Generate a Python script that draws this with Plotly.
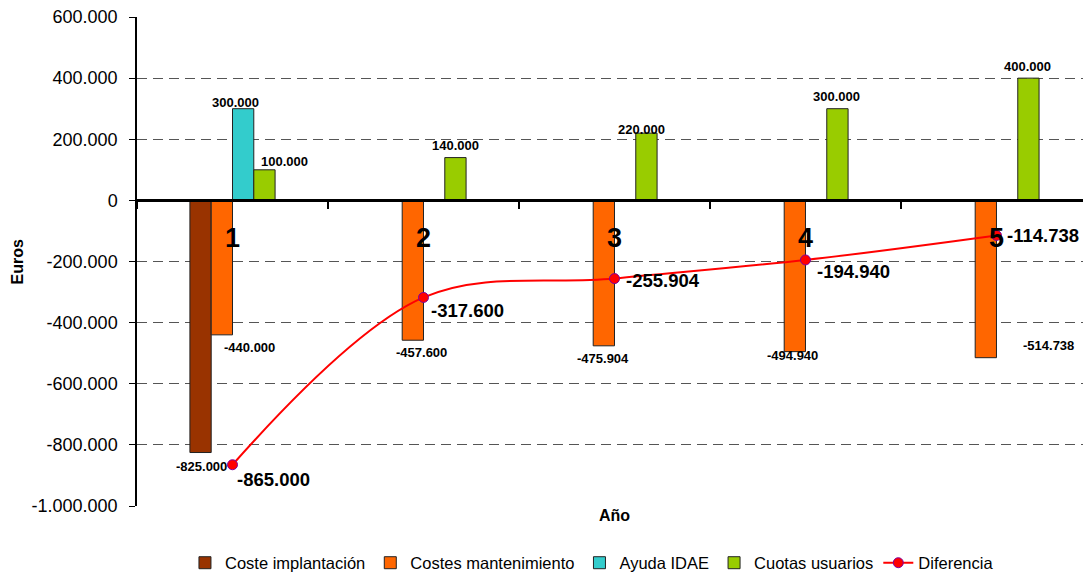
import plotly.graph_objects as go

# ---- data -------------------------------------------------------------
years = ["1", "2", "3", "4", "5"]
coste_implantacion = [-825000, None, None, None, None]
costes_mantenimiento = [-440000, -457600, -475904, -494940, -514738]
ayuda_idae = [300000, None, None, None, None]
cuotas_usuarios = [100000, 140000, 220000, 300000, 400000]
diferencia = [-865000, -317600, -255904, -194940, -114738]
y_ticks = [600000, 400000, 200000, 0, -200000, -400000, -600000, -800000, -1000000]


def fmt(v):
    """Spanish-style thousands separator with a plain hyphen minus."""
    return f"{v:,}".replace(",", ".")


FONT = "Liberation Sans, Arial, sans-serif"

bar_series = [
    ("Coste implantación", coste_implantacion, "#993300"),
    ("Costes mantenimiento", costes_mantenimiento, "#FF6600"),
    ("Ayuda IDAE", ayuda_idae, "#33CCCC"),
    ("Cuotas usuarios", cuotas_usuarios, "#99CC00"),
]

# pixel offsets of each value label from (category centre, bar end)
bar_label_offsets = {
    "Coste implantación": [(-31, -14), None, None, None, None],
    "Costes mantenimiento": [(17, -13), (-2, -12), (-11, -13), (-13, -4), (52, 12)],
    "Ayuda IDAE": [(3, 6), None, None, None, None],
    "Cuotas usuarios": [(52, 8), (32, 12), (27, 4), (31, 12), (31, 12)],
}
line_label_offsets = [(41, -15), (44, -13), (49, -2), (48, -12), (47, 0)]

fig = go.Figure()

for name, values, color in bar_series:
    fig.add_trace(go.Bar(
        x=years, y=values, name=name,
        marker=dict(color=color, line=dict(color="#222222", width=1)),
    ))

fig.add_trace(go.Scatter(
    x=years, y=diferencia, name="Diferencia",
    mode="lines+markers",
    line=dict(color="#FF0000", width=2, shape="spline", smoothing=1.0),
    marker=dict(color="#FF0000", size=10, line=dict(color="#8000A0", width=1)),
))

annotations = []

# bar value labels (x given as category index)
for name, values, _ in bar_series:
    for i, v in enumerate(values):
        off = bar_label_offsets[name][i]
        if v is None or off is None:
            continue
        annotations.append(dict(
            x=i, y=v, xref="x", yref="y", text=fmt(v), showarrow=False,
            xshift=off[0], yshift=off[1], xanchor="center", yanchor="middle",
            font=dict(family=FONT, size=13, color="#000000", weight="bold"),
        ))

# difference labels
for i, v in enumerate(diferencia):
    dx, dy = line_label_offsets[i]
    annotations.append(dict(
        x=i, y=v, xref="x", yref="y", text=fmt(v), showarrow=False,
        xshift=dx, yshift=dy, xanchor="center", yanchor="middle",
        font=dict(family=FONT, size=18.5, color="#000000", weight="bold"),
    ))

# category labels sitting just under the zero line
for i, yr in enumerate(years):
    annotations.append(dict(
        x=i, y=0, xref="x", yref="y", text=yr, showarrow=False,
        yshift=-38, xanchor="center", yanchor="middle",
        font=dict(family=FONT, size=27, color="#000000", weight="bold"),
    ))

# axis titles
annotations.append(dict(
    x=2, y=0, xref="x", yref="paper", text="Año", showarrow=False,
    yshift=-9, xanchor="center", yanchor="middle",
    font=dict(family=FONT, size=16, color="#000000", weight="bold"),
))
annotations.append(dict(
    x=-0.1258, y=0.5, xref="paper", yref="paper", text="Euros", showarrow=False,
    textangle=-90, xanchor="center", yanchor="middle",
    font=dict(family=FONT, size=16, color="#000000", weight="bold"),
))

y_min, y_max = -1000000, 600000

fig.update_layout(
    width=1083, height=576,
    margin=dict(l=137, r=0, t=17, b=70),
    paper_bgcolor="white", plot_bgcolor="white",
    barmode="group", bargap=0.554, bargroupgap=0,
    font=dict(family=FONT, color="#000000"),
    showlegend=True,
    legend=dict(
        orientation="h", xref="container", yref="container",
        x=0.5466, y=0.0226, xanchor="center", yanchor="middle",
        font=dict(family=FONT, size=16.5, color="#000000"),
        itemwidth=30, bgcolor="rgba(0,0,0,0)",
    ),
    annotations=annotations,
    xaxis=dict(
        type="category", range=[-0.5, 4.453],
        anchor="free", position=(0 - y_min) / (y_max - y_min),
        showline=True, linecolor="#000000", linewidth=2.5,
        ticks="outside", tickson="boundaries", ticklen=7,
        tickcolor="#000000", tickwidth=1.5,
        showticklabels=False, showgrid=False, zeroline=False,
    ),
    yaxis=dict(
        range=[y_min, y_max],
        tickmode="array", tickvals=y_ticks, ticktext=[fmt(v) for v in y_ticks],
        tickfont=dict(family=FONT, size=18, color="#000000"),
        showline=True, linecolor="#000000", linewidth=1.5,
        ticks="outside", ticklen=6, tickcolor="#000000", tickwidth=1,
        ticklabelstandoff=8,
        showgrid=True, gridcolor="#555555", gridwidth=1, griddash="10px,6px",
        zeroline=False,
    ),
)

fig.write_html("out.html")
